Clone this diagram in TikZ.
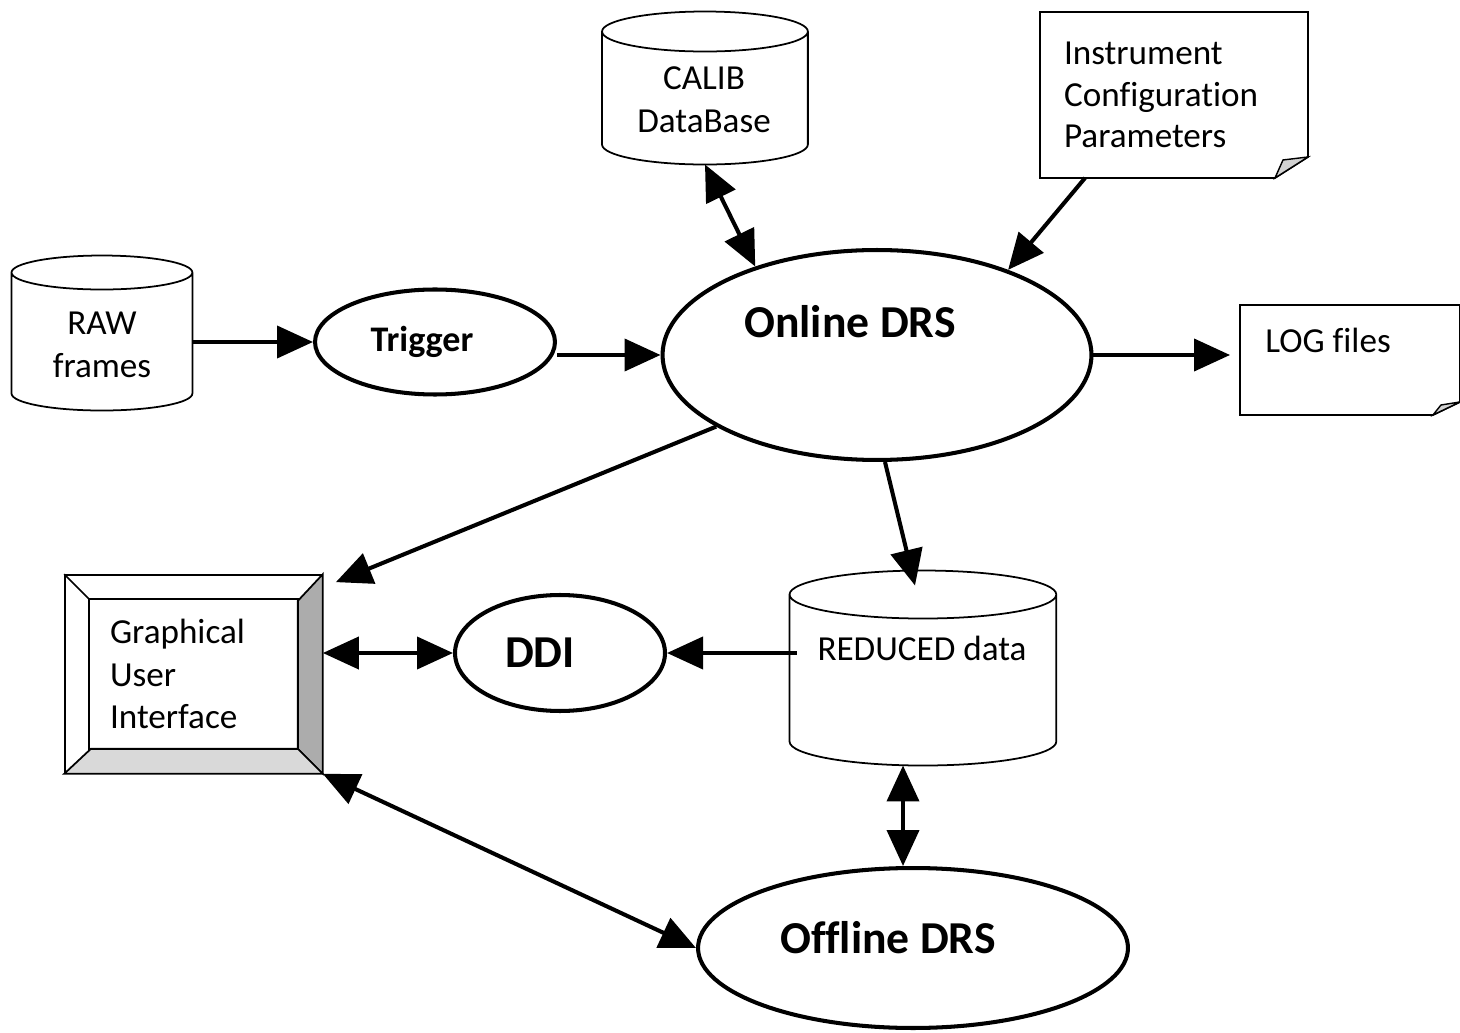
\documentclass[tikz,border=0pt]{standalone}
\usepackage{fontspec}
\setmainfont[Ligatures=NoCommon]{Carlito}
\usepackage{tikz}
\usetikzlibrary{arrows.meta,calc,shapes.geometric}

% cylinder outline over an empty node: name, width, height, cap radius (px)
\newcommand{\drumshape}[4]{%
  \draw[line width=1pt] ($(#1.north west)+(0,#4)$) -- ++(0,#3-2*#4)
    arc[start angle=180,end angle=360,x radius=#2*0.01cm,y radius=#4*0.02cm]
    -- ++(0,-#3+2*#4)
    arc[start angle=0,end angle=360,x radius=#2*0.01cm,y radius=#4*0.02cm];
}
% sheet of paper with a turned corner: name, fold dx, fold dy (px)
\newcommand{\paperedge}[3]{%
  \draw[line width=1pt] (#1.north west) -- (#1.north east)
    -- ($(#1.south east)+(0,-#3)$) -- ($(#1.south east)+(-#2,0)$)
    -- (#1.south west) -- cycle;
  \filldraw[line width=0.8pt,fill=gray!35] ($(#1.south east)+(-#2,0)$)
    -- ($(#1.south east)+(-#2+8,-#3+3)$) -- ($(#1.south east)+(0,-#3)$) -- cycle;
}

\begin{document}
\begin{tikzpicture}[x=0.02cm, y=-0.02cm]
  \tikzset{
    store/.style={draw=none, inner sep=0pt, outer sep=0pt},
    proc/.style={draw, ellipse, line width=2.3pt, inner sep=0pt},
    txt/.style={font=\fontsize{20}{24.5}\selectfont, align=center, inner sep=0pt},
    bigtxt/.style={font=\fontsize{26}{30}\selectfont\bfseries, inner sep=0pt},
    flow/.style={line width=2.3pt, -{Triangle[length=0.72cm,width=0.64cm]}},
    biflow/.style={line width=2.3pt, {Triangle[length=0.72cm,width=0.64cm]}-{Triangle[length=0.72cm,width=0.64cm]}}
  }
  \useasboundingbox (0,0) rectangle (1460,1033);

  % stores
  \node[store, minimum width=3.62cm, minimum height=3.1cm] (raw) at (102,333) {};
  \node[store, minimum width=4.12cm, minimum height=3.06cm] (calib) at (705,88) {};
  \node[store, minimum width=5.34cm, minimum height=3.9cm] (reduced) at (923,668) {};
  \drumshape{raw}{181}{155}{17}
  \drumshape{calib}{206}{153}{20}
  \drumshape{reduced}{267}{195}{24}
  \node[txt] (rawtxt) at (102,345) {RAW\\frames};
  \node[txt] (calibtxt) at (704,100) {CALIB\\DataBase};
  \node[txt] (redtxt) at (922,648) {REDUCED data};

  % files
  \node[store, minimum width=5.36cm, minimum height=3.32cm, text width=4.4cm,
        inner xsep=0.48cm, align=left, font=\fontsize{20}{23.8}\selectfont] (inst) at (1174,95)
        {Instrument\\Configuration\\Parameters};
  \node[store, minimum width=4.4cm, minimum height=2.2cm] (log) at (1350,360) {};
  \paperedge{inst}{33}{21}
  \paperedge{log}{27}{13}
  \node[txt, anchor=west] (logtxt) at (1265,340) {LOG files};

  % processes
  \node[proc, minimum width=4.8cm, minimum height=2.1cm,
        label={[bigtxt, font=\fontsize{20.5}{24}\selectfont\bfseries, xshift=-0.26cm]center:Trigger}] (trigger) at (435,342) {};
  \node[proc, minimum width=8.58cm, minimum height=4.2cm,
        label={[bigtxt, xshift=-0.54cm, yshift=0.66cm]center:Online DRS}] (online) at (877,355) {};
  \node[proc, minimum width=4.2cm, minimum height=2.32cm,
        label={[bigtxt, xshift=-0.4cm]center:DDI}] (ddi) at (560,653) {};
  \node[proc, minimum width=8.6cm, minimum height=3.2cm,
        label={[bigtxt, xshift=-0.5cm, yshift=0.2cm]center:Offline DRS}] (offline) at (913,948) {};

  % user interface
  \node[draw, line width=1pt, minimum width=5.14cm, minimum height=3.96cm, inner xsep=0.9cm,
        text width=3.34cm, align=left, font=\fontsize{20}{24.4}\selectfont] (gui) at (193.5,674)
        {Graphical\\User\\Interface};
  \filldraw[line width=1pt, fill=gray!65] (gui.north east) -- (gui.south east) -- ++(-25,-25) -- ++(0,-148) -- cycle;
  \filldraw[line width=1pt, fill=gray!30] (gui.south west) -- (gui.south east) -- ++(-25,-25) -- ++(-207,0) -- cycle;
  \draw[line width=1pt] ($(gui.north west)+(25,25)$) rectangle ($(gui.south east)+(-25,-25)$);
  \draw[line width=1pt] (gui.north west) -- ++(25,25);

  % connectors
  \draw[flow] (raw.east |- trigger.west) -- (trigger.west);
  \draw[flow] (trigger.east |- online.west) -- (online.west);
  \draw[biflow] (calib.south) -- (online.144);
  \draw[flow] ([xshift=0.9cm]inst.south west) -- (online.33);
  \draw[flow] (online.east) -- ([xshift=-0.2cm]log.west |- online.east);
  \draw[flow] (online.204) -- ([xshift=0.26cm,yshift=-0.16cm]gui.north east);
  \draw[flow] ([xshift=0.16cm]online.south) -- ([xshift=-0.16cm,yshift=-0.3cm]reduced.north);
  \draw[flow] ([xshift=0.14cm]reduced.west |- ddi.east) -- (ddi.east);
  \draw[biflow] (gui.east |- ddi.west) -- (ddi.west);
  \draw[biflow] (gui.south east) -- (offline.west);
  \draw[biflow] ([xshift=-0.4cm]reduced.south) -- ([xshift=-0.4cm]reduced.south |- offline.north);
\end{tikzpicture}
\end{document}
